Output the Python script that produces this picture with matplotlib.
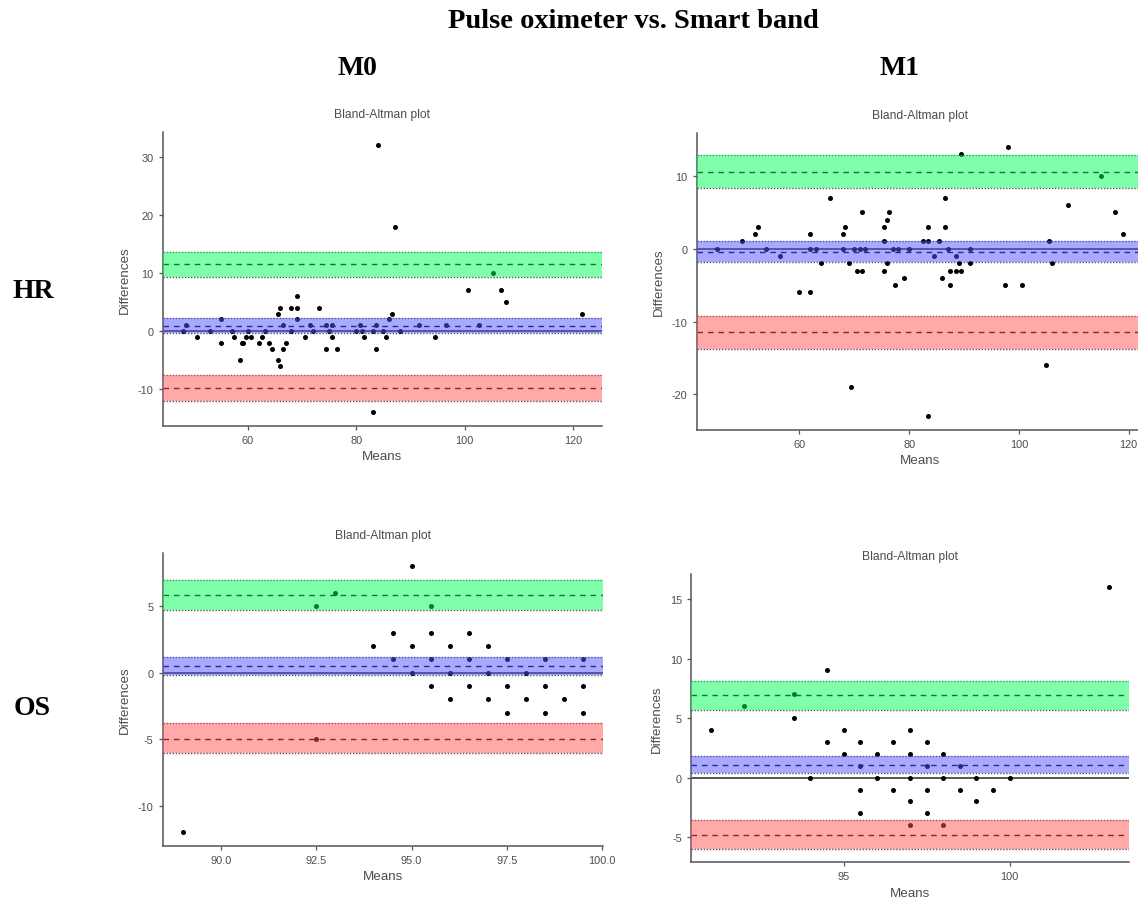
import numpy as np
import matplotlib.pyplot as plt

plt.rcParams['font.family'] = ['Liberation Sans', 'DejaVu Sans']
plt.rcParams['axes.unicode_minus'] = False

# HR, M0
hr_m0_means = [48.0, 48.6, 50.6, 53.0, 55.0, 55.0, 57.1, 57.5, 58.5, 59.0, 59.2, 59.6, 60.1, 60.6,
               62.0, 62.6, 63.1, 64.0, 64.5, 65.5, 65.5, 66.0, 66.0, 66.5, 66.5, 67.1, 68.0, 68.0,
               69.0, 69.0, 69.0, 70.6, 71.5, 72.0, 73.1, 74.5, 74.5, 75.0, 75.5, 75.6, 76.5, 80.0,
               80.6, 81.0, 81.5, 83.1, 83.1, 83.6, 83.6, 84.0, 85.0, 85.5, 86.1, 86.6, 87.1, 88.0,
               91.5, 94.5, 96.6, 100.6, 102.6, 105.1, 106.6, 107.5, 121.6]
hr_m0_diffs = [0, 1, -1, 0, 2, -2, 0, -1, -5, -2, -2, -1, 0, -1,
               -2, -1, 0, -2, -3, 3, -5, 4, -6, 1, -3, -2, 4, 0,
               6, 4, 2, -1, 1, 0, 4, 1, -3, 0, 1, -1, -3, 0,
               1, 0, -1, 0, -14, 1, -3, 32, 0, -1, 2, 3, 18, 0,
               1, -1, 1, 7, 1, 10, 7, 5, 3]

# HR, M1
hr_m1_means = [45.0, 49.5, 52.0, 52.5, 54.0, 56.5, 60.0, 62.0, 62.0, 62.0, 63.0, 64.0, 65.5, 68.0,
               68.0, 68.4, 69.0, 69.5, 70.0, 70.5, 71.0, 71.5, 71.5, 72.0, 75.5, 75.5, 75.5, 76.0,
               76.0, 76.4, 77.0, 77.5, 78.0, 79.0, 80.0, 82.5, 83.5, 83.5, 83.5, 84.5, 85.5, 86.0,
               86.5, 86.5, 87.0, 87.5, 87.5, 88.5, 88.5, 89.0, 89.4, 89.4, 91.0, 91.0, 97.5, 98.0,
               100.5, 105.0, 105.4, 106.0, 109.0, 114.9, 117.5, 118.9]
hr_m1_diffs = [0, 1, 2, 3, 0, -1, -6, 2, 0, -6, 0, -2, 7, 2,
               0, 3, -2, -19, 0, -3, 0, 5, -3, 0, 3, 1, -3, 4,
               -2, 5, 0, -5, 0, -4, 0, 1, 3, 1, -23, -1, 1, -4,
               7, 3, 0, -3, -5, -1, -3, -2, 13, -3, 0, -2, -5, 14,
               -5, -16, 1, -2, 6, 10, 5, 2]

# OS, M0
os_m0_means = [89.0, 92.5, 92.5, 93.0, 94.0, 94.5, 94.5, 95.0, 95.0, 95.0, 95.5, 95.5, 95.5, 95.5,
               96.0, 96.0, 96.0, 96.5, 96.5, 96.5, 97.0, 97.0, 97.0, 97.5, 97.5, 97.5, 98.0, 98.0,
               98.5, 98.5, 98.5, 99.0, 99.5, 99.5, 99.5]
os_m0_diffs = [-12, 5, -5, 6, 2, 3, 1, 8, 2, 0, 5, 3, 1, -1,
               2, 0, -2, 3, 1, -1, 2, 0, -2, 1, -1, -3, 0, -2,
               1, -1, -3, -2, 1, -1, -3]

# OS, M1
os_m1_means = [91.0, 92.0, 93.5, 93.5, 94.0, 94.5, 94.5, 95.0, 95.0, 95.5, 95.5, 95.5, 95.5, 96.0,
               96.0, 96.5, 96.5, 97.0, 97.0, 97.0, 97.0, 97.0, 97.5, 97.5, 97.5, 97.5, 98.0, 98.0,
               98.0, 98.5, 98.5, 99.0, 99.0, 99.5, 100.0, 103.0]
os_m1_diffs = [4, 6, 7, 5, 0, 9, 3, 4, 2, 3, 1, -1, -3, 2,
               0, 3, -1, 4, 2, 0, -2, -4, 3, 1, -1, -3, 2, 0,
               -4, 1, -1, 0, -2, -1, 0, 16]

# limits: [lower CI, estimate, upper CI] for bias, upper LoA, lower LoA
hr_m0_bias = [-0.4, 0.9, 2.2]
hr_m0_upper = [9.3, 11.5, 13.7]
hr_m0_lower = [-12.0, -9.8, -7.5]
hr_m1_bias = [-1.8, -0.4, 1.0]
hr_m1_upper = [8.3, 10.6, 12.9]
hr_m1_lower = [-13.8, -11.5, -9.2]
os_m0_bias = [-0.18, 0.5, 1.18]
os_m0_upper = [4.7, 5.83, 6.95]
os_m0_lower = [-6.05, -4.95, -3.78]
os_m1_bias = [0.36, 1.08, 1.78]
os_m1_upper = [5.7, 6.93, 8.15]
os_m1_lower = [-6.01, -4.78, -3.59]

W, H = 1138, 903
fig = plt.figure(figsize=(W / 100, H / 100), dpi=100)


def px_axes(left, top, right, bottom):
    return fig.add_axes([left / W, 1 - bottom / H, (right - left) / W, (bottom - top) / H])


def bland_altman(ax, means, diffs, bias, upper, lower, xticks, yticks, xfmt='%g'):
    grey = '#4d4d4d'
    ax.scatter(means, diffs, s=13, color='black', zorder=3, linewidths=0)
    ax.axhline(0, color='#555555', lw=1.4, zorder=2)
    for lo, mid, hi in (bias, upper, lower):
        ax.axhline(mid, color='black', lw=1.0, ls=(0, (4, 3.5)), zorder=2)
        ax.axhline(lo, color='#555555', lw=1.0, ls=(0, (1, 1.2)), zorder=2)
        ax.axhline(hi, color='#555555', lw=1.0, ls=(0, (1, 1.2)), zorder=2)
    ax.axhspan(upper[0], upper[2], color=(0, 1, 0.33), alpha=0.5, lw=0, zorder=4)
    ax.axhspan(bias[0], bias[2], color=(0.33, 0.33, 1), alpha=0.5, lw=0, zorder=4)
    ax.axhspan(lower[0], lower[2], color=(1, 0.33, 0.33), alpha=0.5, lw=0, zorder=4)

    ylo = min(min(diffs), lower[0])
    yhi = max(max(diffs), upper[2])
    xr = max(means) - min(means)
    yr = yhi - ylo
    ax.set_xlim(min(means) - 0.05 * xr, max(means) + 0.05 * xr)
    ax.set_ylim(ylo - 0.05 * yr, yhi + 0.05 * yr)
    ax.set_xticks(xticks)
    ax.set_xticklabels([xfmt % t for t in xticks])
    ax.set_yticks(yticks)

    for s in ['top', 'right']:
        ax.spines[s].set_visible(False)
    for s in ['left', 'bottom']:
        ax.spines[s].set_color('#555555')
        ax.spines[s].set_linewidth(1.1)
    ax.tick_params(colors='#555555', labelcolor=grey, labelsize=7.9, length=3, width=0.9)
    ax.set_title('Bland-Altman plot', fontsize=8.7, color=grey, pad=11)
    ax.set_xlabel('Means', fontsize=9.6, color=grey, labelpad=4)
    ax.set_ylabel('Differences', fontsize=9.6, color=grey, labelpad=5)


ax1 = px_axes(162.7, 133, 602, 426.7)
bland_altman(ax1, hr_m0_means, hr_m0_diffs, hr_m0_bias, hr_m0_upper, hr_m0_lower,
             [60, 80, 100, 120], [-10, 0, 10, 20, 30])

ax2 = px_axes(696.7, 134.3, 1143, 430.7)
bland_altman(ax2, hr_m1_means, hr_m1_diffs, hr_m1_bias, hr_m1_upper, hr_m1_lower,
             [60, 80, 100, 120], [-20, -10, 0, 10])

ax3 = px_axes(162.7, 554, 603.3, 846.7)
bland_altman(ax3, os_m0_means, os_m0_diffs, os_m0_bias, os_m0_upper, os_m0_lower,
             [90, 92.5, 95, 97.5, 100], [-10, -5, 0, 5], xfmt='%.1f')

ax4 = px_axes(691, 575, 1129, 863.3)
bland_altman(ax4, os_m1_means, os_m1_diffs, os_m1_bias, os_m1_upper, os_m1_lower,
             [95, 100], [-5, 0, 5, 10, 15])

serif = ['Liberation Serif', 'DejaVu Serif']
fig.text(633 / W, 1 - 21 / H, 'Pulse oximeter vs. Smart band', family=serif, weight='bold',
         fontsize=20.5, ha='center', va='center')
fig.text(357 / W, 1 - 69 / H, 'M0', family=serif, weight='bold', fontsize=20, ha='center', va='center')
fig.text(899 / W, 1 - 69 / H, 'M1', family=serif, weight='bold', fontsize=20, ha='center', va='center')
fig.text(33 / W, 1 - 292 / H, 'HR', family=serif, weight='bold', fontsize=20, ha='center', va='center')
fig.text(32 / W, 1 - 709 / H, 'OS', family=serif, weight='bold', fontsize=20, ha='center', va='center')

fig.savefig('out.png', dpi=100)
